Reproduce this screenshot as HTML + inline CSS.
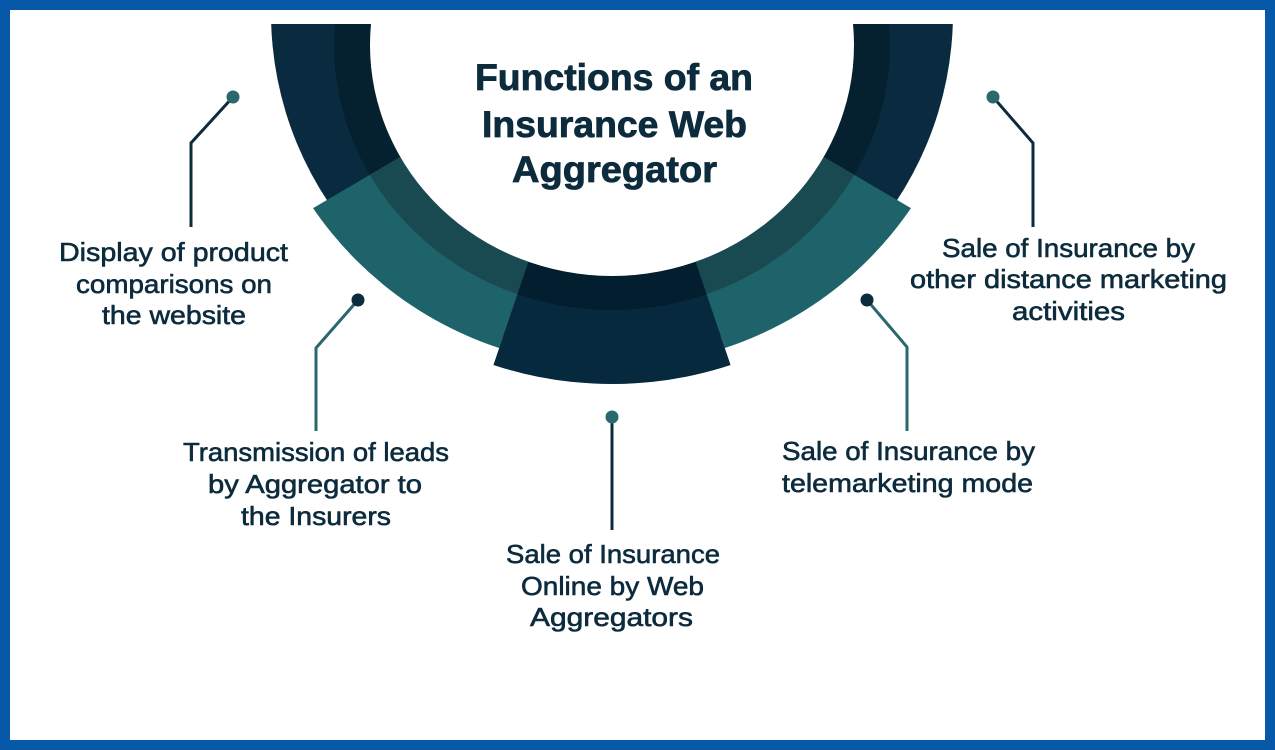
<!DOCTYPE html>
<html>
<head>
<meta charset="utf-8">
<style>
  html, body { margin: 0; padding: 0; background: #ffffff; }
  body { width: 1275px; height: 750px; overflow: hidden; }
  svg { display: block; }
  .t { font-family: "Liberation Sans", Arial, sans-serif; fill: #0c2b3d; }
  .lbl { font-size: 26px; stroke: #0c2b3d; stroke-width: 0.6px; paint-order: stroke; }
  .ttl { font-size: 37px; font-weight: bold; stroke: #0c2b3d; stroke-width: 0.8px; paint-order: stroke; }
</style>
</head>
<body>
<svg width="1275" height="750" viewBox="0 0 1275 750" xmlns="http://www.w3.org/2000/svg">
  <defs>
    <clipPath id="top">
      <rect x="0" y="24" width="1275" height="726"/>
    </clipPath>
    <clipPath id="wl">
      <polygon points="605,37 100,333 100,760 400,640"/>
    </clipPath>
    <clipPath id="wr">
      <polygon points="619,37 1124,333 1124,760 824,640"/>
    </clipPath>
    <clipPath id="wc">
      <polygon points="612,16 400,640 824,640"/>
    </clipPath>
  </defs>

  <rect x="0" y="0" width="1275" height="750" fill="#ffffff"/>

  <g clip-path="url(#top)">
    <circle cx="612" cy="13" r="341" fill="#0a2b3f"/>
    <ellipse cx="612" cy="45" rx="278" ry="265" fill="#05202f"/>

    <g clip-path="url(#wl)">
      <circle cx="612" cy="4" r="362" fill="#1f636a"/>
      <ellipse cx="612" cy="45" rx="278" ry="265" fill="#1a4a51"/>
    </g>
    <g clip-path="url(#wr)">
      <circle cx="612" cy="4" r="362" fill="#1f636a"/>
      <ellipse cx="612" cy="45" rx="278" ry="265" fill="#1a4a51"/>
    </g>
    <g clip-path="url(#wc)">
      <circle cx="612" cy="4" r="380" fill="#06293e"/>
      <ellipse cx="612" cy="45" rx="278" ry="265" fill="#031e2e"/>
    </g>

    <ellipse cx="612" cy="45" rx="242" ry="231" fill="#ffffff"/>
  </g>

  <!-- Title -->
  <text class="t ttl" x="614" y="90" text-anchor="middle" textLength="278" lengthAdjust="spacingAndGlyphs">Functions of an</text>
  <text class="t ttl" x="614.5" y="137" text-anchor="middle" textLength="265" lengthAdjust="spacingAndGlyphs">Insurance Web</text>
  <text class="t ttl" x="614.5" y="182" text-anchor="middle" textLength="205" lengthAdjust="spacingAndGlyphs">Aggregator</text>

  <!-- Connectors -->
  <g fill="none" stroke-width="3" stroke-linejoin="miter">
    <path d="M233,97 L191,143 L191,227" stroke="#0c2b3d"/>
    <path d="M358,300 L316,348 L316,431" stroke="#2a686e"/>
    <path d="M612,417 L612,530" stroke="#0c2b3d"/>
    <path d="M867,300 L907,347 L907,431" stroke="#2a686e"/>
    <path d="M993,97 L1033,143 L1033,227" stroke="#0c2b3d"/>
  </g>
  <circle cx="233" cy="97" r="6.5" fill="#2a686e"/>
  <circle cx="358" cy="300" r="6.5" fill="#0c2b3d"/>
  <circle cx="612" cy="417" r="6.5" fill="#2a686e"/>
  <circle cx="867" cy="300" r="6.5" fill="#0c2b3d"/>
  <circle cx="993" cy="97" r="6.5" fill="#2a686e"/>

  <!-- Labels -->
  <text class="t lbl" x="173.5" y="261" text-anchor="middle" textLength="229" lengthAdjust="spacingAndGlyphs">Display of product</text>
  <text class="t lbl" x="174" y="293" text-anchor="middle" textLength="196" lengthAdjust="spacingAndGlyphs">comparisons on</text>
  <text class="t lbl" x="174" y="324" text-anchor="middle" textLength="144" lengthAdjust="spacingAndGlyphs">the website</text>

  <text class="t lbl" x="316" y="461" text-anchor="middle" textLength="266" lengthAdjust="spacingAndGlyphs">Transmission of leads</text>
  <text class="t lbl" x="315" y="493" text-anchor="middle" textLength="214" lengthAdjust="spacingAndGlyphs">by Aggregator to</text>
  <text class="t lbl" x="316" y="525" text-anchor="middle" textLength="150" lengthAdjust="spacingAndGlyphs">the Insurers</text>

  <text class="t lbl" x="613" y="563" text-anchor="middle" textLength="214" lengthAdjust="spacingAndGlyphs">Sale of Insurance</text>
  <text class="t lbl" x="612.5" y="595" text-anchor="middle" textLength="183" lengthAdjust="spacingAndGlyphs">Online by Web</text>
  <text class="t lbl" x="611.5" y="626" text-anchor="middle" textLength="163" lengthAdjust="spacingAndGlyphs">Aggregators</text>

  <text class="t lbl" x="908.5" y="460" text-anchor="middle" textLength="253" lengthAdjust="spacingAndGlyphs">Sale of Insurance by</text>
  <text class="t lbl" x="907.5" y="492" text-anchor="middle" textLength="251" lengthAdjust="spacingAndGlyphs">telemarketing mode</text>

  <text class="t lbl" x="1068.5" y="257" text-anchor="middle" textLength="253" lengthAdjust="spacingAndGlyphs">Sale of Insurance by</text>
  <text class="t lbl" x="1068.5" y="288" text-anchor="middle" textLength="317" lengthAdjust="spacingAndGlyphs">other distance marketing</text>
  <text class="t lbl" x="1068.5" y="320" text-anchor="middle" textLength="113" lengthAdjust="spacingAndGlyphs">activities</text>

  <!-- Blue frame -->
  <rect x="5" y="5" width="1265" height="740" fill="none" stroke="#0559a8" stroke-width="10"/>
</svg>
</body>
</html>
